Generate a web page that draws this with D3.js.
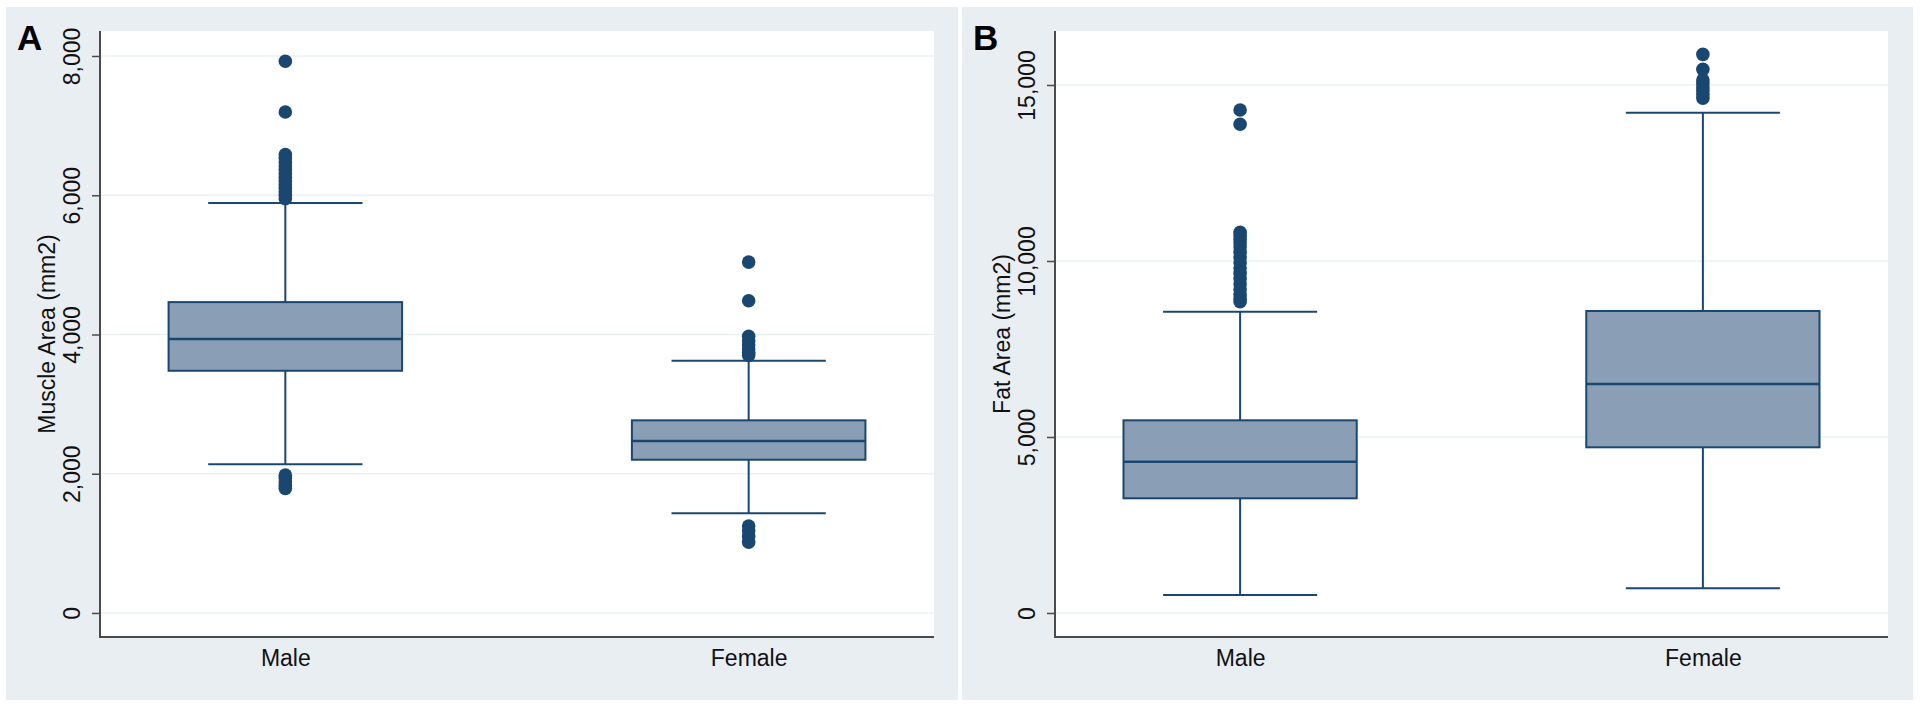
<!DOCTYPE html>
<html>
<head>
<meta charset="utf-8">
<script src="https://cdn.jsdelivr.net/npm/d3@7"></script>
<style>
  html, body { margin: 0; padding: 0; background: #ffffff; }
  svg { display: block; }
  text { font-family: "Liberation Sans", Arial, Helvetica, sans-serif; }
</style>
</head>
<body>
<svg id="chart" width="1920" height="708"></svg>
<script>
// ---------------- DATA ----------------
const categories = ["Male", "Female"];
const panelLetters = ["A", "B"];
const yTitles = ["Muscle Area (mm2)", "Fat Area (mm2)"];
const muscleTicks = [0, 2000, 4000, 6000, 8000];
const fatTicks = [0, 5000, 10000, 15000];

// box stats: [lower whisker, Q1, median, Q3, upper whisker]
const muscleMaleBox   = [2135, 3479, 3934, 4465, 5887];
const muscleFemaleBox = [1431, 2201, 2470, 2767, 3622];
const fatMaleBox      = [511, 3258, 4299, 5474, 8560];
const fatFemaleBox    = [701, 4707, 6506, 8580, 14213];

// outliers
const muscleMaleOutliers = [7925, 7195, 6585, 6530, 6470, 6420, 6370, 6310, 6260, 6200, 6150, 6100, 6050, 6000, 5950,
                            1980, 1935, 1885, 1835, 1790];
const muscleFemaleOutliers = [5040, 4485, 3975, 3910, 3850, 3790, 3740, 3700,
                              1250, 1180, 1100, 1015];
const fatMaleOutliers = [14290, 13885, 10815, 10720, 10620, 10520, 10400, 10250, 10100, 9950, 9800, 9650, 9500,
                         9350, 9200, 9050, 8930, 8845];
const fatFemaleOutliers = [15870, 15445, 15140, 15040, 14940, 14840, 14740, 14625];

// ---------------- STYLE ----------------
const bgGray = "#e9eef2";
const gridCol = "#eaf1f3";
const axisCol = "#4a4a4a";
const navy = "#1a476f";
const boxFill = "#8a9fb5";
const fontSize = 23;

const svg = d3.select("#chart");

const panels = [
  { letter: panelLetters[0], title: yTitles[0], ticks: muscleTicks,
    domain: [-345, 8359],
    boxes: [muscleMaleBox, muscleFemaleBox],
    outliers: [muscleMaleOutliers, muscleFemaleOutliers],
    bg: [6, 7, 952, 693], plot: [100, 31, 934, 637] },
  { letter: panelLetters[1], title: yTitles[1], ticks: fatTicks,
    domain: [-682, 16534],
    boxes: [fatMaleBox, fatFemaleBox],
    outliers: [fatMaleOutliers, fatFemaleOutliers],
    bg: [962, 7, 951, 693], plot: [1055, 31, 1888, 637] }
];

panels.forEach(p => {
  const [px0, py0, px1, py1] = p.plot;
  const g = svg.append("g");

  // outer gray background
  g.append("rect").attr("x", p.bg[0]).attr("y", p.bg[1])
    .attr("width", p.bg[2]).attr("height", p.bg[3]).attr("fill", bgGray);
  // plot area
  g.append("rect").attr("x", px0).attr("y", py0)
    .attr("width", px1 - px0).attr("height", py1 - py0).attr("fill", "#ffffff");

  const y = d3.scaleLinear().domain(p.domain).range([py1, py0]);
  const x = d3.scalePoint().domain(categories).range([px0, px1]).padding(0.4);
  const step = x.step();
  const boxW = step * 0.504;
  const capW = step * 0.333;

  // gridlines
  g.append("g").selectAll("line").data(p.ticks).join("line")
    .attr("x1", px0).attr("x2", px1)
    .attr("y1", d => y(d)).attr("y2", d => y(d))
    .attr("stroke", gridCol).attr("stroke-width", 1.5);

  // y axis
  const yAxis = d3.axisLeft(y).tickValues(p.ticks).tickSize(8)
    .tickFormat(d3.format(","));
  const ya = g.append("g").attr("transform", `translate(${px0},0)`).call(yAxis);
  ya.select(".domain").remove();
  ya.selectAll(".tick line").attr("stroke", axisCol).attr("stroke-width", 1.5);
  ya.selectAll(".tick text")
    .attr("transform", "rotate(-90)")
    .attr("x", 0).attr("y", -20).attr("dy", 0)
    .attr("text-anchor", "middle")
    .attr("font-size", fontSize).attr("fill", "#111")
    .style("font-family", "'Liberation Sans', Arial, sans-serif");

  // x axis
  const xAxis = d3.axisBottom(x).tickSize(0);
  const xa = g.append("g").attr("transform", `translate(0,${py1})`).call(xAxis);
  xa.select(".domain").remove();
  xa.selectAll(".tick text")
    .attr("y", 29).attr("dy", 0)
    .attr("font-size", fontSize).attr("fill", "#111")
    .style("font-family", "'Liberation Sans', Arial, sans-serif");

  // axis lines
  g.append("line").attr("x1", px0).attr("x2", px0).attr("y1", py0).attr("y2", py1 + 1)
    .attr("stroke", axisCol).attr("stroke-width", 2);
  g.append("line").attr("x1", px0 - 1).attr("x2", px1).attr("y1", py1).attr("y2", py1)
    .attr("stroke", axisCol).attr("stroke-width", 2);

  // y title
  g.append("text")
    .attr("transform", `translate(${px0 - 45},${(py0 + py1) / 2}) rotate(-90)`)
    .attr("text-anchor", "middle")
    .attr("font-size", fontSize).attr("fill", "#111")
    .text(p.title);

  // panel letter
  g.append("text")
    .attr("x", p.bg[0] + 11).attr("y", 50)
    .attr("font-size", 35).attr("font-weight", "bold").attr("fill", "#000")
    .text(p.letter);

  // boxes
  categories.forEach((cat, i) => {
    const b = p.boxes[i];
    const cx = x(cat);
    const bg = g.append("g");
    // whiskers
    bg.append("line").attr("x1", cx).attr("x2", cx)
      .attr("y1", y(b[3])).attr("y2", y(b[4]))
      .attr("stroke", navy).attr("stroke-width", 2);
    bg.append("line").attr("x1", cx).attr("x2", cx)
      .attr("y1", y(b[1])).attr("y2", y(b[0]))
      .attr("stroke", navy).attr("stroke-width", 2);
    // caps
    [b[0], b[4]].forEach(v => {
      bg.append("line").attr("x1", cx - capW / 2).attr("x2", cx + capW / 2)
        .attr("y1", y(v)).attr("y2", y(v))
        .attr("stroke", navy).attr("stroke-width", 2);
    });
    // box
    bg.append("rect")
      .attr("x", cx - boxW / 2).attr("width", boxW)
      .attr("y", y(b[3])).attr("height", y(b[1]) - y(b[3]))
      .attr("fill", boxFill).attr("stroke", navy).attr("stroke-width", 2);
    // median
    bg.append("line").attr("x1", cx - boxW / 2).attr("x2", cx + boxW / 2)
      .attr("y1", y(b[2])).attr("y2", y(b[2]))
      .attr("stroke", navy).attr("stroke-width", 2.5);
    // outliers
    bg.append("g").selectAll("circle").data(p.outliers[i]).join("circle")
      .attr("cx", cx).attr("cy", d => y(d)).attr("r", 6.8)
      .attr("fill", navy);
  });
});
</script>
</body>
</html>
